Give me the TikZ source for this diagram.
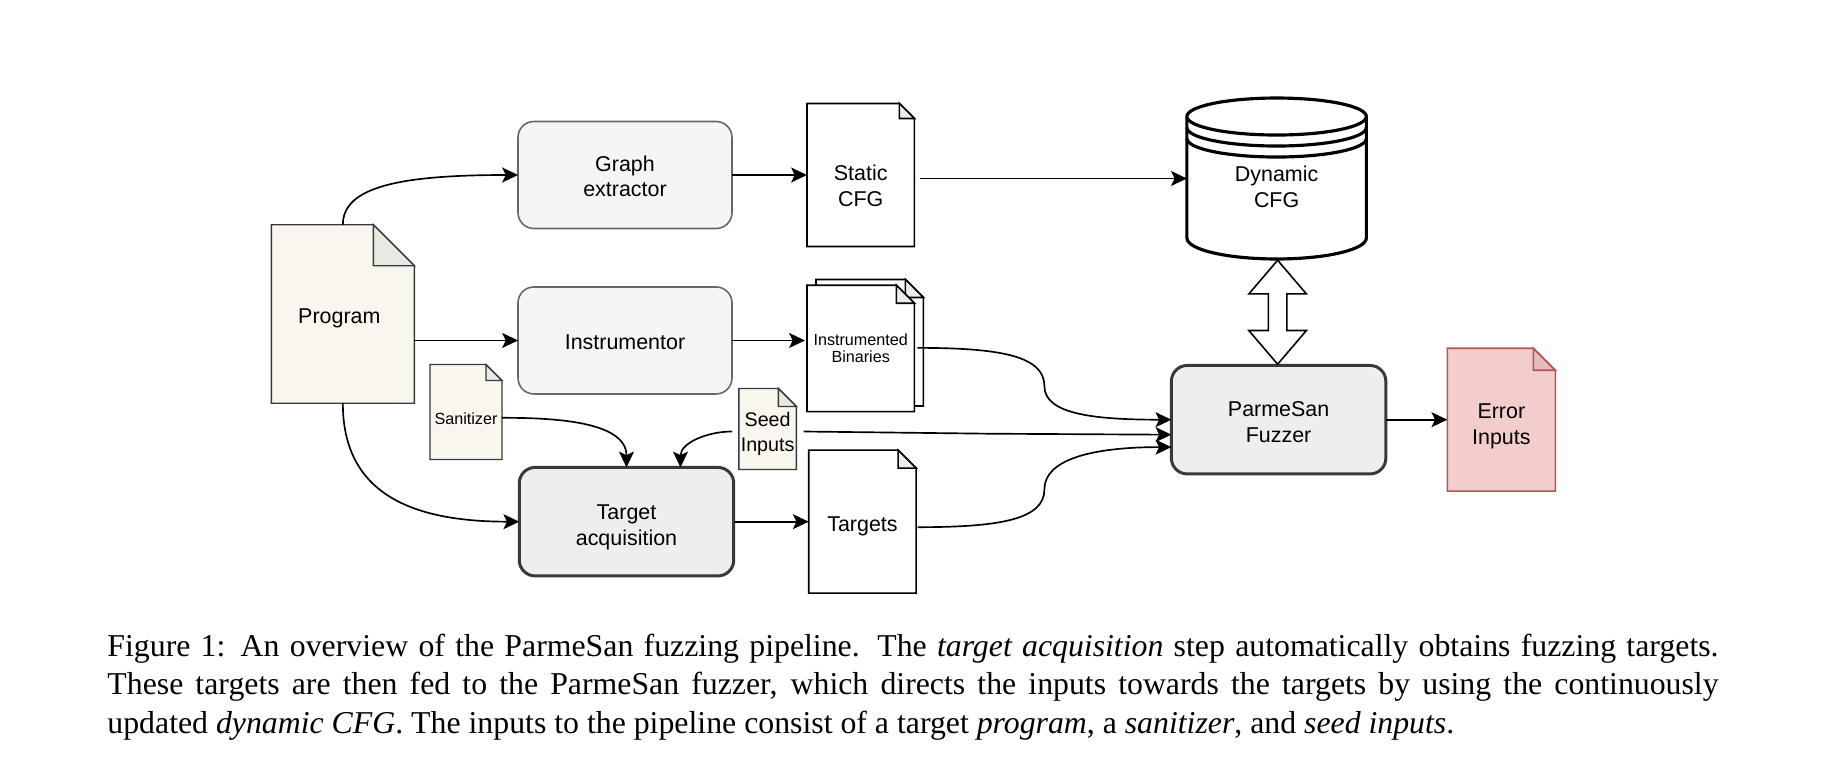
\documentclass[tikz,border=0pt]{standalone}
\usepackage{fontspec}
\setmainfont{Liberation Serif}
\setsansfont{Liberation Sans}
\usetikzlibrary{arrows.meta,positioning,calc,backgrounds,shapes.arrows}
\definecolor{PipeInk}{HTML}{36393D}
\definecolor{PipeCream}{HTML}{F9F7ED}
\definecolor{PipeCreamFold}{HTML}{E9E8E2}
\definecolor{PipeWhiteFold}{HTML}{EDEDED}
\definecolor{PipeRed}{HTML}{F2CDCC}
\definecolor{PipeRedFold}{HTML}{E3BDBD}
\definecolor{PipeRedLine}{HTML}{B85450}
\definecolor{PipeSoft}{HTML}{F5F5F5}
\definecolor{PipeSoftLine}{HTML}{666666}
\definecolor{PipeMain}{HTML}{EEEEEE}
\newcommand{\pagefold}[5]{
  \begin{pgfonlayer}{background}
  \draw[#4] (#1.north west) -- ($(#1.north east)+(-#2,0)$) -- ($(#1.north east)+(0,#3)$) -- (#1.south east) -- (#1.south west) -- cycle;
  \draw[#4, fill=#5] ($(#1.north east)+(-#2,0)$) -- ($(#1.north east)+(-#2,#3)$) -- ($(#1.north east)+(0,#3)$) -- cycle;
  \end{pgfonlayer}
}
\newcommand{\dropline}[1]{\rule{0pt}{#1pt}}

\begin{document}
\begin{tikzpicture}[
  x=0.02cm, y=-0.02cm,
  every node/.style={font=\sffamily\fontsize{12.2}{14.6}\selectfont, outer sep=0pt, inner sep=0pt, align=center},
  softbox/.style={draw=PipeSoftLine, fill=PipeSoft, line width=0.9pt, rounded corners=9pt, minimum width=4.28cm, minimum height=2.14cm},
  mainbox/.style={draw=PipeInk, fill=PipeMain, line width=1.7pt, rounded corners=9pt, minimum width=4.29cm, minimum height=2.17cm},
  sheet/.style={minimum width=#1},
  smalltext/.style={font=\sffamily\fontsize{9.2}{9.6}\selectfont},
  creamline/.style={draw=PipeInk, fill=PipeCream, line width=0.8pt},
  whiteline/.style={draw=black, fill=white, line width=0.9pt},
  redline/.style={draw=PipeRedLine, fill=PipeRed, line width=0.9pt},
  arrow/.style={-{Stealth[length=9pt, width=8.5pt, inset=2pt]}, line width=0.95pt, color=black}
]
\useasboundingbox (0,0) rectangle (1826,774);

\node[sheet=2.86cm, minimum height=3.57cm] (program) at (342.85,314) {\dropline{13}Program\hspace*{4pt}};
\node[softbox] (graph) at (625,175) {\dropline{10.5}Graph\\extractor};
\node[softbox, below=1.17cm of graph] (instr) {\dropline{10.5}Instrumentor};
\node[mainbox, below=1.47cm of instr, xshift=0.03cm] (target) {\dropline{14.5}Target\\acquisition};

\node[sheet=2.15cm, minimum height=2.86cm, right=1.5cm of graph] (static) {\dropline{21}Static\\CFG};
\node[sheet=2.15cm, minimum height=2.53cm, smalltext, right=1.5cm of instr, yshift=-0.16cm] (binaries) {Instrumented\\Binaries};
\node[sheet=2.15cm, minimum height=2.53cm] (binariesback) at ($(binaries)+(9,-5.7)$) {};
\node[sheet=2.15cm, minimum height=2.86cm, right=1.5cm of target] (targets) {\dropline{14}Targets};

\node[sheet=1.44cm, minimum height=1.9cm, smalltext] (sanitizer) at (466,412) {\dropline{14}Sanitizer};
\node[sheet=1.15cm, minimum height=1.62cm, font=\sffamily\fontsize{11.2}{14}\selectfont] (seed) at (767.6,429) {\dropline{14}Seed\\Inputs};

\node[minimum width=3.59cm, minimum height=3.22cm, right=5.45cm of static, yshift=-0.07cm] (cfgdb) {\dropline{18}Dynamic\\CFG};
\node[mainbox, below=2.13cm of cfgdb, xshift=0.04cm] (fuzzer) {\dropline{11}ParmeSan\\Fuzzer};
\node[sheet=2.16cm, minimum height=2.86cm, right=1.23cm of fuzzer] (error) {\dropline{16}Error\\Inputs};

\node[double arrow, draw=black, fill=white, line width=0.9pt, rotate=90, minimum height=2.08cm, inner ysep=0.17cm,
  double arrow head extend=0.39cm, double arrow tip angle=81] (sync) at ($(cfgdb.south)!0.5!(fuzzer.north)$) {};

\pagefold{program}{41}{41}{creamline}{PipeCreamFold}
\pagefold{static}{15}{15}{whiteline}{PipeWhiteFold}
\pagefold{binariesback}{18}{18}{whiteline}{PipeWhiteFold}
\pagefold{binaries}{18}{18}{whiteline}{PipeWhiteFold}
\pagefold{targets}{18}{18}{whiteline}{PipeWhiteFold}
\pagefold{sanitizer}{16}{16}{creamline}{PipeCreamFold}
\pagefold{seed}{18}{18}{creamline}{PipeCreamFold}
\pagefold{error}{22}{22}{redline}{PipeRedFold}

\begin{pgfonlayer}{background}
\draw[black, fill=white, line width=1.8pt]
  ($(cfgdb.north west)+(0,18.5)$) -- ($(cfgdb.south west)+(0,-21)$)
  arc[start angle=180, end angle=360, x radius=1.795cm, y radius=0.42cm]
  -- ($(cfgdb.north east)+(0,18.5)$);
\draw[black, fill=white, line width=1.8pt] ($(cfgdb.north)+(0,18.5)$) ellipse[x radius=1.795cm, y radius=0.37cm];
\draw[black, line width=1.8pt] ($(cfgdb.north west)+(0,29.5)$) arc[start angle=180, end angle=360, x radius=1.795cm, y radius=0.37cm];
\draw[black, line width=1.8pt] ($(cfgdb.north west)+(0,40.5)$) arc[start angle=180, end angle=360, x radius=1.795cm, y radius=0.37cm];
\end{pgfonlayer}

\coordinate (binarybend) at (1044.4,386);
\coordinate (targetbend) at (1044.4,489.3);
\coordinate (seedbend) at (989,433.7);

\draw[arrow] (program.north) .. controls +(0,-38) and +(-118,0) .. (graph.west);
\draw[arrow] (program.east |- instr.west) -- (instr.west);
\draw[arrow] (program.south) .. controls +(0,87) and +(-113,0) .. (target.west);
\draw[arrow] (graph) -- (static);
\draw[arrow] (instr.east) -- ($(instr.east -| binaries.west)+(-2,0)$);
\draw[arrow] (target) -- (targets);
\draw[arrow, shorten <=3pt] (static.east |- cfgdb.west) -- (cfgdb.west);
\draw[arrow] ($(sanitizer.east)+(0,5.8)$) to[out=0, in=90, looseness=0.9] (target.north);
\draw[arrow] ($(seed.west)+(-6.8,2.5)$) to[out=180, in=90] ($(target.north)+(54,0)$);
\draw[arrow] ($(binaries.east)+(3,-0.6)$) .. controls +(83,0) and +(0,-30) .. (binarybend) .. controls +(0,27) and +(-82,0) .. (fuzzer.west);
\draw[arrow] ($(seed.east)+(7.2,2.5)$) -- (seedbend) -- ($(fuzzer.west)+(0,15)$);
\draw[arrow] ($(targets.east)+(1.4,5.5)$) .. controls +(83,0) and +(0,30) .. (targetbend) .. controls +(0,-29) and +(-82,0) .. ($(fuzzer.west)+(0,27.4)$);
\draw[arrow] (fuzzer.east) -- (fuzzer.east -| error.west);

\node[text width=917pt, align=justify, font=\rmfamily\fontsize{18.1}{22}\selectfont] (caption) at (913,687)
  {Figure 1: An overview of the ParmeSan fuzzing pipeline. The \textit{target acquisition} step automatically obtains fuzzing targets.\linebreak
   These targets are then fed to the ParmeSan fuzzer, which directs the inputs towards the targets by using the continuously\linebreak
   updated \textit{dynamic CFG}. The inputs to the pipeline consist of a target \textit{program}, a \textit{sanitizer}, and \textit{seed inputs}.};
\end{tikzpicture}
\end{document}
